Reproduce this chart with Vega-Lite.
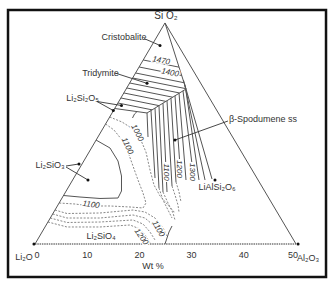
{
  "$schema": "https://vega.github.io/schema/vega-lite/v6.json",
  "width": 333,
  "height": 289,
  "padding": 0,
  "autosize": {"type": "none"},
  "config": {"view": {"stroke": null}, "text": {"font": "Liberation Sans"}},
  "datasets": {
    "frame": [{"x1": -5.17, "x2": 55.75, "y1": 44.83, "y2": -6.32}],
    "lines": [
      {"id": "tri", "t": "s", "o": 1, "x": 0, "y": 0},
      {"id": "tri", "t": "s", "o": 2, "x": 24.90, "y": 42.34},
      {"id": "tri", "t": "s", "o": 3, "x": 50, "y": 0},
      {"id": "j", "t": "s", "o": 1, "x": 24.90, "y": 42.34},
      {"id": "j", "t": "s", "o": 2, "x": 28.93, "y": 29.69},
      {"id": "lb", "t": "s", "o": 1, "x": 28.93, "y": 29.69},
      {"id": "lb", "t": "s", "o": 2, "x": 21.46, "y": 25.10},
      {"id": "h1", "t": "s", "o": 1, "x": 20.74, "y": 35.25},
      {"id": "h1", "t": "s", "o": 2, "x": 27.60, "y": 33.88},
      {"id": "h2", "t": "s", "o": 1, "x": 19.95, "y": 33.91},
      {"id": "h2", "t": "s", "o": 2, "x": 28.10, "y": 32.28},
      {"id": "h3", "t": "s", "o": 1, "x": 19.27, "y": 32.76},
      {"id": "h3", "t": "s", "o": 2, "x": 28.54, "y": 30.90},
      {"id": "h4", "t": "s", "o": 1, "x": 18.71, "y": 31.80},
      {"id": "h4", "t": "s", "o": 2, "x": 28.90, "y": 29.76},
      {"id": "h5", "t": "s", "o": 1, "x": 18.15, "y": 30.84},
      {"id": "h5", "t": "s", "o": 2, "x": 27.69, "y": 28.93},
      {"id": "h6", "t": "s", "o": 1, "x": 17.58, "y": 29.89},
      {"id": "h6", "t": "s", "o": 2, "x": 26.38, "y": 28.12},
      {"id": "h7", "t": "s", "o": 1, "x": 17.02, "y": 28.93},
      {"id": "h7", "t": "s", "o": 2, "x": 25.07, "y": 27.32},
      {"id": "h8", "t": "s", "o": 1, "x": 16.46, "y": 27.97},
      {"id": "h8", "t": "s", "o": 2, "x": 23.75, "y": 26.51},
      {"id": "h9", "t": "s", "o": 1, "x": 15.89, "y": 27.01},
      {"id": "h9", "t": "s", "o": 2, "x": 22.44, "y": 25.70},
      {"id": "h10", "t": "s", "o": 1, "x": 15.27, "y": 25.96},
      {"id": "h10", "t": "s", "o": 2, "x": 21.46, "y": 25.10},
      {"id": "bv", "t": "s", "o": 1, "x": 21.46, "y": 25.10},
      {"id": "bv", "t": "s", "o": 2, "x": 21.65, "y": 20.50},
      {"id": "arc", "t": "s", "o": 1, "x": 19.54, "y": 25.36},
      {"id": "arc", "t": "s", "o": 2, "x": 19.06, "y": 24.90},
      {"id": "arc", "t": "s", "o": 3, "x": 18.68, "y": 24.14},
      {"id": "s1", "t": "s", "o": 1, "x": 22.22, "y": 25.57},
      {"id": "s1", "t": "s", "o": 2, "x": 22.99, "y": 12.64},
      {"id": "s2", "t": "s", "o": 1, "x": 22.99, "y": 26.03},
      {"id": "s2", "t": "s", "o": 2, "x": 23.75, "y": 10.73},
      {"id": "s3", "t": "s", "o": 1, "x": 23.75, "y": 26.51},
      {"id": "s3", "t": "s", "o": 2, "x": 24.52, "y": 9.96},
      {"id": "s4a", "t": "s", "o": 1, "x": 24.52, "y": 26.97},
      {"id": "s4a", "t": "s", "o": 2, "x": 25.03, "y": 15.71},
      {"id": "s4b", "t": "s", "o": 1, "x": 25.20, "y": 11.88},
      {"id": "s4b", "t": "s", "o": 2, "x": 25.29, "y": 9.96},
      {"id": "s5", "t": "s", "o": 1, "x": 25.29, "y": 27.45},
      {"id": "s5", "t": "s", "o": 2, "x": 26.25, "y": 11.11},
      {"id": "s6", "t": "s", "o": 1, "x": 26.05, "y": 27.93},
      {"id": "s6", "t": "s", "o": 2, "x": 27.01, "y": 11.88},
      {"id": "s7", "t": "s", "o": 1, "x": 26.82, "y": 28.39},
      {"id": "s7", "t": "s", "o": 2, "x": 27.68, "y": 16.28},
      {"id": "s8", "t": "s", "o": 1, "x": 27.59, "y": 28.87},
      {"id": "s8", "t": "s", "o": 2, "x": 28.93, "y": 12.26},
      {"id": "s9", "t": "s", "o": 1, "x": 28.35, "y": 29.35},
      {"id": "s9", "t": "s", "o": 2, "x": 30.03, "y": 15.71},
      {"id": "s10", "t": "s", "o": 1, "x": 28.81, "y": 30.08},
      {"id": "s10", "t": "s", "o": 2, "x": 31.42, "y": 12.26},
      {"id": "s11", "t": "s", "o": 1, "x": 28.64, "y": 30.65},
      {"id": "s11", "t": "s", "o": 2, "x": 32.57, "y": 12.26},
      {"id": "s12", "t": "s", "o": 1, "x": 28.43, "y": 31.42},
      {"id": "s12", "t": "s", "o": 2, "x": 33.91, "y": 12.45},
      {"id": "l3", "t": "s", "o": 1, "x": 11.69, "y": 19.92},
      {"id": "l3", "t": "s", "o": 2, "x": 14.37, "y": 18.39},
      {"id": "l3", "t": "s", "o": 3, "x": 15.90, "y": 15.90},
      {"id": "l3", "t": "s", "o": 4, "x": 16.57, "y": 13.03},
      {"id": "l3", "t": "s", "o": 5, "x": 16.57, "y": 10.15},
      {"id": "l3", "t": "s", "o": 6, "x": 15.90, "y": 8.81},
      {"id": "l3", "t": "s", "o": 7, "x": 12.45, "y": 8.72},
      {"id": "l3", "t": "s", "o": 8, "x": 8.62, "y": 9.00},
      {"id": "l3", "t": "s", "o": 9, "x": 5.48, "y": 9.29},
      {"id": "ab", "t": "s", "o": 1, "x": 24.90, "y": 0},
      {"id": "ab", "t": "s", "o": 2, "x": 25.29, "y": 1.15},
      {"id": "ab", "t": "s", "o": 3, "x": 25.67, "y": 2.30},
      {"id": "ab", "t": "s", "o": 4, "x": 26.25, "y": 3.45},
      {"id": "d1", "t": "d", "o": 1, "x": 14.31, "y": 24.33},
      {"id": "d1", "t": "d", "o": 2, "x": 16.67, "y": 23.37},
      {"id": "d1", "t": "d", "o": 3, "x": 18.77, "y": 22.03},
      {"id": "d1", "t": "d", "o": 4, "x": 20.11, "y": 20.31},
      {"id": "d1", "t": "d", "o": 5, "x": 21.26, "y": 17.62},
      {"id": "d1", "t": "d", "o": 6, "x": 22.03, "y": 14.18},
      {"id": "d1", "t": "d", "o": 7, "x": 22.80, "y": 11.30},
      {"id": "d1", "t": "d", "o": 8, "x": 23.95, "y": 9.20},
      {"id": "d1", "t": "d", "o": 9, "x": 25.48, "y": 7.47},
      {"id": "d1", "t": "d", "o": 10, "x": 26.82, "y": 5.94},
      {"id": "d2", "t": "d", "o": 1, "x": 13.52, "y": 22.99},
      {"id": "d2", "t": "d", "o": 2, "x": 15.13, "y": 21.84},
      {"id": "d2", "t": "d", "o": 3, "x": 16.67, "y": 19.92},
      {"id": "d2", "t": "d", "o": 4, "x": 17.82, "y": 17.62},
      {"id": "d2", "t": "d", "o": 5, "x": 18.77, "y": 14.94},
      {"id": "d2", "t": "d", "o": 6, "x": 19.73, "y": 12.26},
      {"id": "d2", "t": "d", "o": 7, "x": 20.69, "y": 9.77},
      {"id": "d2", "t": "d", "o": 8, "x": 21.26, "y": 7.85},
      {"id": "d2", "t": "d", "o": 9, "x": 20.69, "y": 6.90},
      {"id": "d2", "t": "d", "o": 10, "x": 18.20, "y": 7.09},
      {"id": "d2", "t": "d", "o": 11, "x": 14.37, "y": 7.28},
      {"id": "d2", "t": "d", "o": 12, "x": 10.54, "y": 7.28},
      {"id": "d2", "t": "d", "o": 13, "x": 7.66, "y": 7.66},
      {"id": "d2", "t": "d", "o": 14, "x": 4.64, "y": 7.85},
      {"id": "L1", "t": "d", "o": 1, "x": 3.83, "y": 6.51},
      {"id": "L1", "t": "d", "o": 2, "x": 6.13, "y": 5.84},
      {"id": "L1", "t": "d", "o": 3, "x": 12.45, "y": 5.94},
      {"id": "L1", "t": "d", "o": 4, "x": 18.77, "y": 6.51},
      {"id": "L1", "t": "d", "o": 5, "x": 21.07, "y": 6.13},
      {"id": "L1", "t": "d", "o": 6, "x": 22.99, "y": 4.98},
      {"id": "L1", "t": "d", "o": 7, "x": 24.52, "y": 3.07},
      {"id": "L1", "t": "d", "o": 8, "x": 25.29, "y": 1.53},
      {"id": "L2", "t": "d", "o": 1, "x": 3.39, "y": 5.75},
      {"id": "L2", "t": "d", "o": 2, "x": 6.13, "y": 4.98},
      {"id": "L2", "t": "d", "o": 3, "x": 12.45, "y": 4.98},
      {"id": "L2", "t": "d", "o": 4, "x": 18.77, "y": 5.56},
      {"id": "L2", "t": "d", "o": 5, "x": 21.07, "y": 4.98},
      {"id": "L2", "t": "d", "o": 6, "x": 22.61, "y": 3.64},
      {"id": "L2", "t": "d", "o": 7, "x": 23.95, "y": 1.72},
      {"id": "L3", "t": "d", "o": 1, "x": 2.93, "y": 4.98},
      {"id": "L3", "t": "d", "o": 2, "x": 6.13, "y": 4.12},
      {"id": "L3", "t": "d", "o": 3, "x": 12.45, "y": 4.21},
      {"id": "L3", "t": "d", "o": 4, "x": 18.77, "y": 4.60},
      {"id": "L3", "t": "d", "o": 5, "x": 20.69, "y": 3.83},
      {"id": "L3", "t": "d", "o": 6, "x": 22.03, "y": 2.30},
      {"id": "L3", "t": "d", "o": 7, "x": 22.99, "y": 0.77},
      {"id": "L4", "t": "d", "o": 1, "x": 2.49, "y": 4.21},
      {"id": "L4", "t": "d", "o": 2, "x": 6.13, "y": 3.26},
      {"id": "L4", "t": "d", "o": 3, "x": 12.45, "y": 3.26},
      {"id": "L4", "t": "d", "o": 4, "x": 18.20, "y": 3.64},
      {"id": "L4", "t": "d", "o": 5, "x": 20.11, "y": 2.87},
      {"id": "L4", "t": "d", "o": 6, "x": 21.26, "y": 1.53},
      {"id": "L4", "t": "d", "o": 7, "x": 22.03, "y": 0.19},
      {"id": "e1", "t": "d", "o": 1, "x": 23.75, "y": 10.73},
      {"id": "e1", "t": "d", "o": 2, "x": 24.52, "y": 8.43},
      {"id": "e1", "t": "d", "o": 3, "x": 25.48, "y": 6.51},
      {"id": "e1", "t": "d", "o": 4, "x": 26.25, "y": 4.98},
      {"id": "e2", "t": "d", "o": 1, "x": 24.52, "y": 9.96},
      {"id": "e2", "t": "d", "o": 2, "x": 25.48, "y": 7.85},
      {"id": "e2", "t": "d", "o": 3, "x": 26.44, "y": 5.94},
      {"id": "e2", "t": "d", "o": 4, "x": 26.82, "y": 4.60},
      {"id": "e3", "t": "d", "o": 1, "x": 26.25, "y": 11.11},
      {"id": "e3", "t": "d", "o": 2, "x": 26.82, "y": 9.39},
      {"id": "e3", "t": "d", "o": 3, "x": 27.39, "y": 7.47},
      {"id": "e3", "t": "d", "o": 4, "x": 27.59, "y": 6.13},
      {"id": "e4", "t": "d", "o": 1, "x": 27.01, "y": 11.88},
      {"id": "e4", "t": "d", "o": 2, "x": 27.59, "y": 9.96},
      {"id": "e4", "t": "d", "o": 3, "x": 27.97, "y": 8.05},
      {"id": "base", "t": "b", "o": 1, "x": 0, "y": 0},
      {"id": "base", "t": "b", "o": 2, "x": 50, "y": 0},
      {"id": "a1", "t": "a", "o": 1, "x": 20.88, "y": 39.37},
      {"id": "a1", "t": "a", "o": 2, "x": 23.75, "y": 38.12},
      {"id": "a2", "t": "a", "o": 1, "x": 15.33, "y": 32.76},
      {"id": "a2", "t": "a", "o": 2, "x": 21.26, "y": 30.84},
      {"id": "a3", "t": "a", "o": 1, "x": 11.88, "y": 27.30},
      {"id": "a3", "t": "a", "o": 2, "x": 15.00, "y": 25.57},
      {"id": "a4", "t": "a", "o": 1, "x": 11.88, "y": 27.30},
      {"id": "a4", "t": "a", "o": 2, "x": 16.57, "y": 26.53},
      {"id": "a5", "t": "a", "o": 1, "x": 5.94, "y": 14.94},
      {"id": "a5", "t": "a", "o": 2, "x": 8.43, "y": 15.33},
      {"id": "a6", "t": "a", "o": 1, "x": 5.94, "y": 14.75},
      {"id": "a6", "t": "a", "o": 2, "x": 10.15, "y": 12.26},
      {"id": "a7", "t": "a", "o": 1, "x": 36.97, "y": 23.56},
      {"id": "a7", "t": "a", "o": 2, "x": 26.82, "y": 19.92}
    ],
    "dots": [
      {"x": 23.95, "y": 38.03}, {"x": 21.46, "y": 30.79}, {"x": 15.00, "y": 25.57},
      {"x": 16.57, "y": 26.53}, {"x": 8.43, "y": 15.33}, {"x": 10.15, "y": 12.26},
      {"x": 26.82, "y": 19.92}, {"x": 34.48, "y": 12.26}, {"x": -0.2, "y": 0}, {"x": 50.4, "y": 0}
    ],
    "texts": [
      {"s": "Si O₂", "x": 25.10, "y": 43.68, "z": 10},
      {"s": "Cristobalite", "x": 17.05, "y": 39.65, "z": 9},
      {"s": "Tridymite", "x": 12.55, "y": 32.85, "z": 9},
      {"s": "Li₂Si₂O₅", "x": 9.10, "y": 27.97, "z": 9},
      {"s": "Li₂SiO₃", "x": 2.87, "y": 15.13, "z": 9},
      {"s": "Li₂SiO₄", "x": 12.64, "y": 1.53, "z": 9},
      {"s": "β-Spodumene ss", "x": 43.68, "y": 23.95, "z": 9},
      {"s": "LiAlSi₂O₆", "x": 34.87, "y": 10.92, "z": 9},
      {"s": "Li₂O", "x": -2.11, "y": -2.49, "z": 9},
      {"s": "Al₂O₃", "x": 52.30, "y": -2.68, "z": 9},
      {"s": "Wt %", "x": 22.61, "y": -4.21, "z": 9},
      {"s": "0", "x": 0.38, "y": -2.11, "z": 9},
      {"s": "10", "x": 10, "y": -2.11, "z": 9},
      {"s": "20", "x": 20, "y": -2.11, "z": 9},
      {"s": "30", "x": 30, "y": -2.11, "z": 9},
      {"s": "40", "x": 40, "y": -2.11, "z": 9},
      {"s": "50", "x": 49.42, "y": -2.11, "z": 9}
    ],
    "iso": [
      {"s": "1470", "x": 24.14, "y": 35.06, "a": 11, "h": 1},
      {"s": "1400", "x": 25.86, "y": 32.76, "a": 11, "h": 1},
      {"s": "1000", "x": 19.54, "y": 21.26, "a": 62, "h": 1},
      {"s": "1100", "x": 17.62, "y": 18.77, "a": 65, "h": 1},
      {"s": "1100", "x": 10.73, "y": 7.47, "a": 8, "h": 1},
      {"s": "1200", "x": 20.31, "y": 1.34, "a": 55, "h": 1},
      {"s": "1100", "x": 23.56, "y": 2.87, "a": 60, "h": 1},
      {"s": "1100", "x": 25.00, "y": 13.79, "a": 90, "h": 0},
      {"s": "1200", "x": 27.68, "y": 14.37, "a": 90, "h": 0},
      {"s": "1300", "x": 30.17, "y": 13.79, "a": 90, "h": 0}
    ]
  },
  "encoding": {
    "x": {"field": "x", "type": "quantitative", "scale": {"domain": [-6.705, 57.088], "nice": false, "zero": false}, "axis": null},
    "y": {"field": "y", "type": "quantitative", "scale": {"domain": [-8.621, 46.743], "nice": false, "zero": false}, "axis": null}
  },
  "layer": [
    {
      "data": {"name": "frame"},
      "mark": {"type": "rect", "filled": false, "stroke": "#111", "strokeWidth": 2.5},
      "encoding": {
        "x": {"field": "x1", "type": "quantitative"},
        "x2": {"field": "x2"},
        "y": {"field": "y1", "type": "quantitative"},
        "y2": {"field": "y2"}
      }
    },
    {
      "data": {"name": "lines"},
      "transform": [{"filter": "datum.t === 'b'"}],
      "mark": {"type": "line", "color": "#999", "strokeWidth": 2, "strokeDash": [1.5, 0.8]},
      "encoding": {"detail": {"field": "id"}, "order": {"field": "o"}}
    },
    {
      "data": {"name": "lines"},
      "transform": [{"filter": "datum.t === 'd'"}],
      "mark": {"type": "line", "color": "#888", "strokeWidth": 1, "strokeDash": [2, 1.5]},
      "encoding": {"detail": {"field": "id"}, "order": {"field": "o"}}
    },
    {
      "data": {"name": "lines"},
      "transform": [{"filter": "datum.t === 's'"}],
      "mark": {"type": "line", "color": "#555", "strokeWidth": 1},
      "encoding": {"detail": {"field": "id"}, "order": {"field": "o"}}
    },
    {
      "data": {"name": "lines"},
      "transform": [{"filter": "datum.t === 'a'"}],
      "mark": {"type": "line", "color": "#333", "strokeWidth": 0.9},
      "encoding": {"detail": {"field": "id"}, "order": {"field": "o"}}
    },
    {
      "data": {"name": "dots"},
      "mark": {"type": "point", "filled": true, "color": "#111", "size": 9, "opacity": 1}
    },
    {
      "data": {"name": "iso"},
      "transform": [{"filter": "datum.h === 1"}],
      "mark": {"type": "text", "fontSize": 8, "fontStyle": "italic", "color": "white", "stroke": "white", "strokeWidth": 2.5, "align": "center", "baseline": "middle"},
      "encoding": {"text": {"field": "s"}, "angle": {"field": "a", "type": "quantitative", "scale": null}}
    },
    {
      "data": {"name": "iso"},
      "mark": {"type": "text", "fontSize": 8, "fontStyle": "italic", "color": "#333", "align": "center", "baseline": "middle"},
      "encoding": {"text": {"field": "s"}, "angle": {"field": "a", "type": "quantitative", "scale": null}}
    },
    {
      "data": {"name": "texts"},
      "mark": {"type": "text", "color": "#333", "align": "center", "baseline": "middle"},
      "encoding": {"text": {"field": "s"}, "size": {"field": "z", "type": "quantitative", "scale": null}}
    }
  ]
}
